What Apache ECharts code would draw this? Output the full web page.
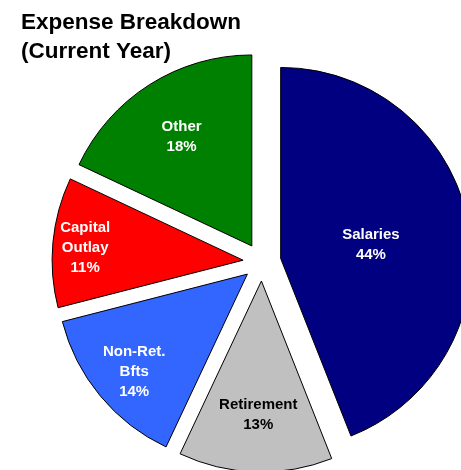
<!DOCTYPE html>
<html>
<head>
<meta charset="utf-8">
<script src="https://cdn.jsdelivr.net/npm/echarts@6/dist/echarts.min.js"></script>
<style>html,body{margin:0;padding:0;background:#fff;}#c{width:461px;height:470px;}</style>
</head>
<body>
<div id="c"></div>
<script>
const categories = ['Salaries', 'Retirement', 'Non-Ret.\nBfts', 'Capital\nOutlay', 'Other'];
const values = [44, 13, 14, 11, 18];

const colors = ['#000080', '#C0C0C0', '#3366FF', '#FF0000', '#008000'];
const labelColors = ['#ffffff', '#000000', '#ffffff', '#ffffff', '#ffffff'];
const labelRadius = [0.46, 0.67, 0.76, 0.82, 0.68];
const R = 191;

const total = values.reduce((a, b) => a + b, 0);
let acc = 0;
const shifts = [];
const data = values.map((v, i) => {
  const mid = (acc + v / 2) / total * 2 * Math.PI;
  acc += v;
  const k = (labelRadius[i] - 0.5) * R;
  shifts.push([k * Math.sin(mid) + 1, -k * Math.cos(mid) + 3]);
  const st = { color: colors[i], borderColor: '#000', borderWidth: 1 };
  return {
    name: categories[i],
    value: v,
    selected: true,
    itemStyle: st,
    select: { itemStyle: st, label: { color: labelColors[i] } },
    label: { color: labelColors[i] }
  };
});

const chart = echarts.init(document.getElementById('c'), null, { renderer: 'canvas' });
chart.setOption({
  animation: false,
  title: {
    text: 'Expense Breakdown\n(Current Year)',
    left: 21,
    top: 8,
    padding: 0,
    textStyle: {
      fontFamily: 'Liberation Sans',
      fontSize: 22.5,
      fontWeight: 'bold',
      lineHeight: 29,
      color: '#000'
    }
  },
  series: [{
    type: 'pie',
    center: [262, 262],
    radius: [0, R],
    startAngle: 90,
    clockwise: true,
    selectedMode: 'multiple',
    selectedOffset: 19,
    avoidLabelOverlap: false,
    emphasis: { disabled: true },
    label: {
      show: true,
      position: 'inside',
      fontFamily: 'Liberation Sans',
      fontSize: 15,
      fontWeight: 'bold',
      lineHeight: 20,
      align: 'center',
      formatter: p => p.name + '\n' + values[p.dataIndex] + '%'
    },
    labelLayout: p => ({ dx: shifts[p.dataIndex][0], dy: shifts[p.dataIndex][1] }),
    labelLine: { show: false },
    data: data
  }]
});
</script>
</body>
</html>
